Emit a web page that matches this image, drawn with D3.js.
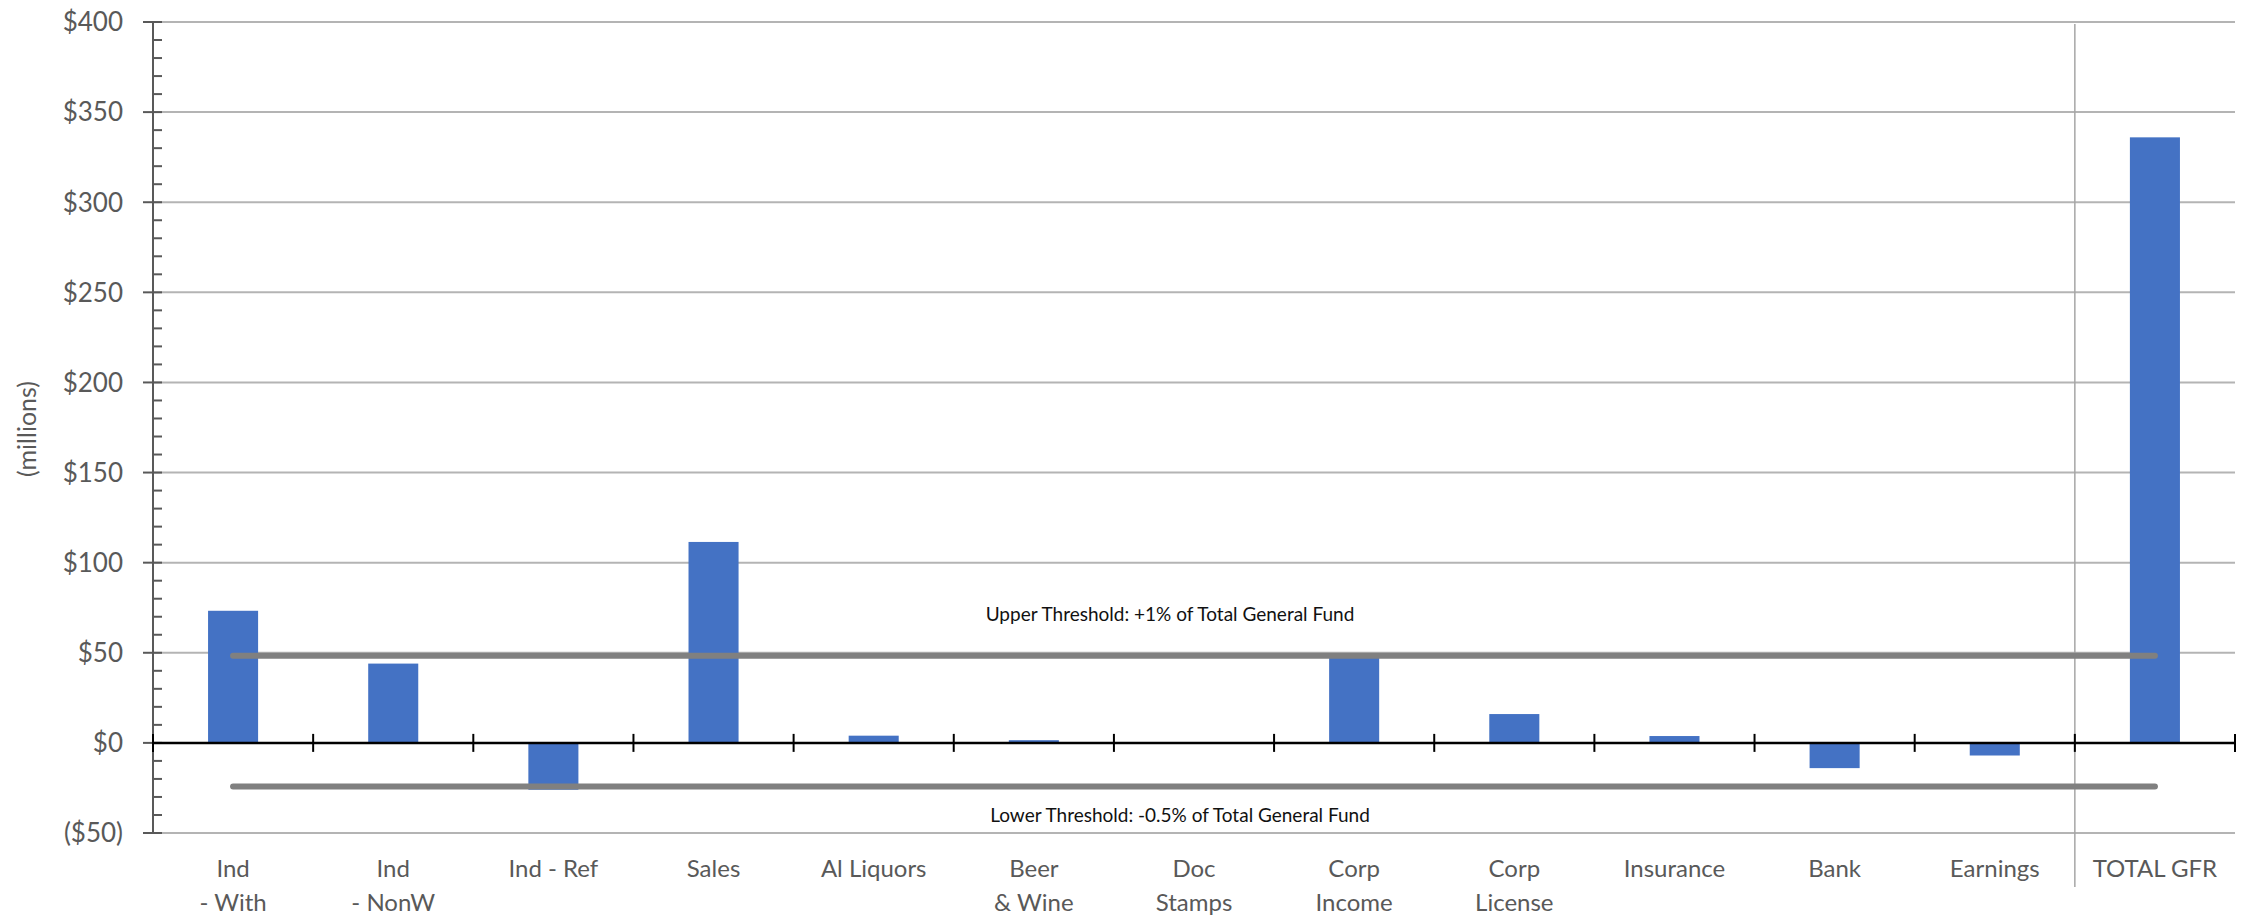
<!DOCTYPE html>
<html>
<head>
<meta charset="utf-8">
<script src="https://cdn.jsdelivr.net/npm/d3@7"></script>
<style>
  body { margin: 0; background: #fff; }
  svg text { font-family: Lato, "Open Sans", sans-serif; }
</style>
</head>
<body>
<div id="chart"></div>
<script>
// Revenue source changes vs. thresholds (millions)

const categories = ["Ind - With", "Ind - NonW", "Ind - Ref", "Sales", "Al Liquors", "Beer & Wine",
                    "Doc Stamps", "Corp Income", "Corp License", "Insurance", "Bank", "Earnings", "TOTAL GFR"];
const categoryLines = [["Ind", "- With"], ["Ind", "- NonW"], ["Ind - Ref"], ["Sales"], ["Al Liquors"],
                       ["Beer", "& Wine"], ["Doc", "Stamps"], ["Corp", "Income"], ["Corp", "License"],
                       ["Insurance"], ["Bank"], ["Earnings"], ["TOTAL GFR"]];
const changes = [73.3, 44, -26, 111.5, 4, 1.5, 0, 48, 16, 3.8, -14, -7, 336];

const thresholdValues = [48.4, -24.2];
const thresholdLabels = ["Upper Threshold: +1% of Total General Fund",
                         "Lower Threshold: -0.5% of Total General Fund"];

const yDomain = [-50, 400];
const yMajorTicks = [-50, 0, 50, 100, 150, 200, 250, 300, 350, 400];
const yMinorTicks = d3.range(-50, 401, 10);

const width = 2247, height = 916;
const margin = { top: 22, right: 12, bottom: 83, left: 153 };

const svg = d3.select("#chart").append("svg")
  .attr("width", width)
  .attr("height", height);

const x = d3.scaleBand()
  .domain(categories)
  .range([margin.left, width - margin.right])
  .paddingInner(0.6875)
  .paddingOuter(0.34375);

const step = x.step();
const xLeft = margin.left, xRight = width - margin.right;

const y = d3.scaleLinear()
  .domain(yDomain)
  .range([height - margin.bottom, margin.top]);

// ── Gridlines ───────────────────────────────────────────────────────────────
svg.append("g")
  .selectAll("line")
  .data(yMajorTicks)
  .join("line")
  .attr("x1", xLeft).attr("x2", xRight)
  .attr("y1", d => y(d)).attr("y2", d => y(d))
  .attr("stroke", "#b4b4b4")
  .attr("stroke-width", 2);

// separator before TOTAL GFR
const sepX = x("TOTAL GFR") - (step - x.bandwidth()) / 2;
svg.append("line")
  .attr("x1", sepX).attr("x2", sepX)
  .attr("y1", y(400) + 2).attr("y2", 887)
  .attr("stroke", "#a6a6a6")
  .attr("stroke-width", 1.5);

// ── Bars ────────────────────────────────────────────────────────────────────
svg.append("g")
  .selectAll("rect")
  .data(categories)
  .join("rect")
  .attr("x", d => x(d))
  .attr("width", x.bandwidth())
  .attr("y", (d, i) => y(Math.max(0, changes[i])))
  .attr("height", (d, i) => Math.abs(y(changes[i]) - y(0)))
  .attr("fill", "#4472c4");

// ── Threshold lines ─────────────────────────────────────────────────────────
const firstC = x(categories[0]) + x.bandwidth() / 2;
const lastC = x(categories[categories.length - 1]) + x.bandwidth() / 2;

svg.append("g")
  .selectAll("line")
  .data(thresholdValues)
  .join("line")
  .attr("x1", firstC).attr("x2", lastC)
  .attr("y1", d => y(d)).attr("y2", d => y(d))
  .attr("stroke", "#808080")
  .attr("stroke-width", 6)
  .attr("stroke-linecap", "round");

svg.append("text")
  .attr("x", 1170).attr("y", y(thresholdValues[0]) - 35)
  .attr("text-anchor", "middle")
  .style("font-size", "19px")
  .attr("fill", "#111")
  .text(thresholdLabels[0]);

svg.append("text")
  .attr("x", 1180).attr("y", y(thresholdValues[1]) + 35)
  .attr("text-anchor", "middle")
  .style("font-size", "19px")
  .attr("fill", "#111")
  .text(thresholdLabels[1]);

// ── Y axis ──────────────────────────────────────────────────────────────────
const yAxisG = svg.append("g").attr("transform", `translate(${xLeft},0)`);

yAxisG.append("line")
  .attr("y1", y(400)).attr("y2", y(-50))
  .attr("stroke", "#595959").attr("stroke-width", 2);

yAxisG.selectAll(".minor")
  .data(yMinorTicks)
  .join("line")
  .attr("class", "minor")
  .attr("x1", 0).attr("x2", 9)
  .attr("y1", d => y(d)).attr("y2", d => y(d))
  .attr("stroke", "#595959").attr("stroke-width", 2);

yAxisG.selectAll(".major")
  .data(yMajorTicks)
  .join("line")
  .attr("class", "major")
  .attr("x1", -10).attr("x2", 0)
  .attr("y1", d => y(d)).attr("y2", d => y(d))
  .attr("stroke", "#595959").attr("stroke-width", 2);

yAxisG.selectAll(".ylabel")
  .data(yMajorTicks)
  .join("text")
  .attr("class", "ylabel")
  .attr("x", -30)
  .attr("y", d => y(d))
  .attr("dy", "0.36em")
  .attr("text-anchor", "end")
  .attr("fill", "#595959")
  .style("font-size", "26px")
  .text(d => d < 0 ? `($${-d})` : `$${d}`);

svg.append("text")
  .attr("transform", `translate(27, 429) rotate(-90)`)
  .attr("text-anchor", "middle")
  .attr("dy", "0.35em")
  .attr("fill", "#595959")
  .style("font-size", "25px")
  .text("(millions)");

// ── X axis at zero ──────────────────────────────────────────────────────────
const xAxisG = svg.append("g");
xAxisG.append("line")
  .attr("x1", xLeft).attr("x2", xRight)
  .attr("y1", y(0)).attr("y2", y(0))
  .attr("stroke", "#000").attr("stroke-width", 2.5);

const boundaries = categories.map(c => x(c) - (step - x.bandwidth()) / 2).concat([xRight]);
xAxisG.selectAll(".xtick")
  .data(boundaries)
  .join("line")
  .attr("class", "xtick")
  .attr("x1", d => d).attr("x2", d => d)
  .attr("y1", y(0) - 9).attr("y2", y(0) + 9)
  .attr("stroke", "#000").attr("stroke-width", 2);

const xLabels = svg.append("g")
  .selectAll("text")
  .data(categories)
  .join("text")
  .attr("x", d => x(d) + x.bandwidth() / 2)
  .attr("y", 877)
  .attr("text-anchor", "middle")
  .attr("fill", "#595959")
  .style("font-size", "24px");

xLabels.each(function(d, i) {
  const t = d3.select(this);
  categoryLines[i].forEach((line, j) => {
    t.append("tspan")
      .attr("x", x(d) + x.bandwidth() / 2)
      .attr("dy", j === 0 ? 0 : 34)
      .text(line);
  });
});
</script>
</body>
</html>
